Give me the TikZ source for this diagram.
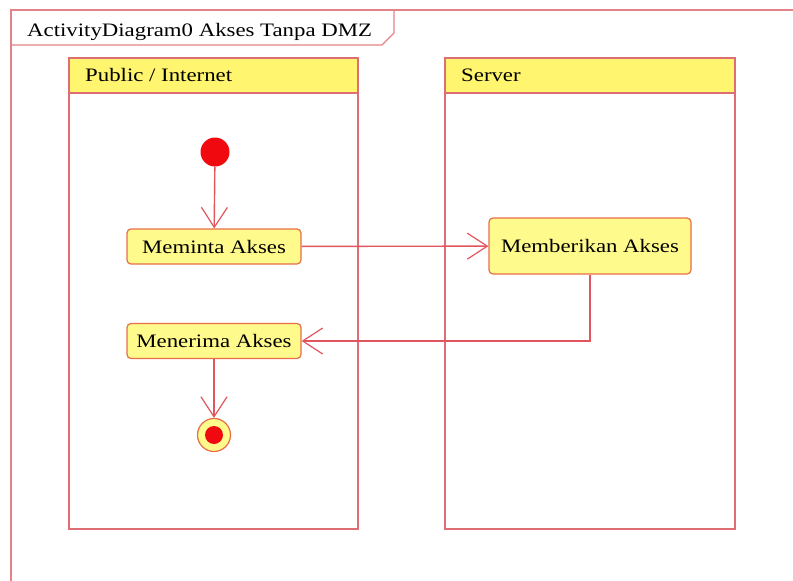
\documentclass[tikz,border=0pt]{standalone}
\usepackage{fontspec}
\setmainfont{Liberation Serif}[FakeStretch=1.2]
\usetikzlibrary{arrows.meta}
\definecolor{framecol}{RGB}{228,130,135}
\definecolor{lanecol}{RGB}{222,110,115}
\definecolor{linecol}{RGB}{225,85,95}
\definecolor{headfill}{RGB}{255,245,110}
\definecolor{actfill}{RGB}{255,250,140}
\definecolor{actborder}{RGB}{232,110,70}
\definecolor{initcol}{RGB}{240,10,15}
\tikzset{
  lanebox/.style={draw=lanecol, line width=1.4pt},
  lanehead/.style={draw=lanecol, fill=headfill, line width=1.4pt},
  act/.style={draw=actborder, fill=actfill, rounded corners=4pt, line width=1.2pt, font=\fontsize{19}{22}\selectfont, inner sep=0pt},
  flow/.style={draw=linecol, line width=1.4pt, -{Straight Barb[length=20pt,width=26pt,line width=1.2pt]}},
  txt/.style={font=\fontsize{19}{22}\selectfont, inner sep=0pt, anchor=base west},
}
\begin{document}
\begin{tikzpicture}[x=1pt,y=-1pt]
\useasboundingbox (0,0) rectangle (793,581);
\clip (0,0) rectangle (793,581);
% frame
\draw[draw=framecol, line width=1.3pt] (11,10) rectangle (820,600);
\draw[draw=framecol, line width=1.3pt] (11,45) -- (382,45) -- (394,33) -- (394,10);
\node[txt] (title) at (27,36) {ActivityDiagram0 Akses Tanpa DMZ};
% lanes
\draw[lanebox] (69,93) rectangle (358,529);
\draw[lanehead] (69,58) rectangle (358,93);
\node[txt] (lane1) at (85,81) {Public / Internet};
\draw[lanebox] (445,93) rectangle (735,529);
\draw[lanehead] (445,58) rectangle (735,93);
\node[txt] (lane2) at (461,81) {Server};
% nodes
\node[circle, fill=initcol, minimum size=29pt, inner sep=0pt] (init) at (215,152) {};
\node[act, minimum width=174pt, minimum height=35pt] (req) at (214,246.5) {Meminta Akses};
\node[act, minimum width=202pt, minimum height=56pt] (give) at (590,246) {Memberikan Akses};
\node[act, minimum width=174pt, minimum height=35pt] (recv) at (214,341) {Menerima Akses};
\node[circle, draw=actborder, fill=actfill, line width=1.2pt, minimum size=33pt, inner sep=0pt] (fin) at (214,435) {};
\node[circle, fill=initcol, minimum size=18pt, inner sep=0pt] (fininner) at (fin) {};
% flows
\draw[flow] (init) -- (req);
\draw[flow] (req) -- (give);
\draw[flow] (give.south) |- (recv.east);
\draw[flow] (recv) -- (fin);
\end{tikzpicture}
\end{document}
